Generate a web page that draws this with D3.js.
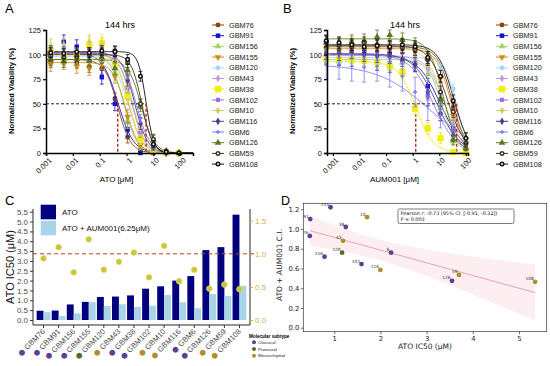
<!DOCTYPE html>
<html>
<head>
<meta charset="utf-8">
<script src="https://cdn.jsdelivr.net/npm/d3@7"></script>
<style>
body { margin: 0; background: #fff; }
svg { display: block; font-family: "Liberation Sans", Arial, sans-serif; }
</style>
</head>
<body>
<div id="fig"></div>
<script>
// GBM lines, ATO / AUM001 dose response + IC50 / combination index

const cellLines = ['GBM76','GBM91','GBM156','GBM155','GBM120','GBM43','GBM38','GBM102','GBM10','GBM116','GBM6','GBM126','GBM59','GBM108']
const lineColors = ['#8b4513','#1414d2','#a4d36a','#c98c1c','#a8d8f0','#b79ae6','#eeee10','#9a6ee0','#d9c86a','#4a3a8a','#7d7cf2','#5b7a1f','#4a3322','#111111']
const markerShapes = ['circle','square','triangle','triangleDown','circle','diamond','bigSquare','circle','diamond','diamond','cross','triangle','ring','ring']

// panel A : ATO doses (uM) and mean viability (%)
const dosesA = [0.0015, 0.0046, 0.014, 0.041, 0.12, 0.37, 1.1, 3.3, 10, 30, 90]
const viabA = [
	[93, 96, 92, 88, 86, 55, 16, 3, 1, 0, 0],
	[98, 113, 108, 99, 77, 50, 24, 0, 0, 0, 0],
	[108, 96, 97, 95, 97, 82, 33, 6, 1, 0, 0],
	[90, 92, 88, 86, 92, 78, 37, 8, 1, 0, 0],
	[100, 97, 99, 96, 98, 88, 55, 20, 14, 0, 0],
	[103, 100, 101, 99, 101, 92, 56, 15, 2, 0, 0],
	[104, 99, 98, 110, 112, 92, 58, 14, 2, 0, 0],
	[101, 100, 99, 100, 103, 96, 66, 21, 4, 0, 0],
	[96, 110, 97, 113, 110, 95, 68, 25, 4, 0, 0],
	[103, 102, 100, 101, 100, 99, 74, 30, 6, 0, 0],
	[100, 103, 102, 99, 101, 100, 79, 35, 8, 1, 0],
	[95, 93, 96, 94, 97, 86, 84, 48, 13, 2, 0],
	[99, 97, 98, 100, 102, 104, 92, 50, 14, 2, 0],
	[102, 101, 103, 102, 104, 103, 95, 78, 9, 1, 0]
]
const sdA = [6, 7, 8, 7, 5, 6, 8, 5, 7, 6, 4, 6, 5, 5]
const topA = [95, 102, 100, 92, 98, 102, 100, 101, 100, 102, 102, 95, 100, 103]
const hillA = [1.8, 1.5, 1.8, 1.8, 1.6, 1.8, 1.8, 1.8, 1.8, 1.8, 1.7, 1.8, 2.2, 3]

// panel B : AUM001 doses (uM) and mean viability (%)
const dosesB = [0.00056, 0.0017, 0.0051, 0.015, 0.046, 0.137, 0.41, 1.23, 3.7, 11.1, 33.3, 100]
const viabB = [
	[107, 108, 109, 106, 108, 110, 108, 106, 97, 78, 45, 15],
	[99, 97, 103, 103, 92, 101, 93, 91, 68, 52, 25, 1],
	[95, 93, 97, 95, 94, 90, 92, 88, 80, 50, 12, 5],
	[106, 104, 107, 108, 107, 105, 106, 104, 95, 76, 38, 10],
	[100, 97, 99, 96, 95, 97, 96, 93, 90, 85, 65, 12],
	[98, 100, 101, 97, 99, 98, 96, 94, 85, 60, 28, 8],
	[97, 96, 95, 94, 92, 88, 82, 45, 25, 15, 1, 0],
	[100, 102, 101, 100, 99, 98, 96, 88, 58, 40, 22, 5],
	[104, 108, 110, 109, 108, 110, 106, 102, 90, 40, 32, 12],
	[102, 101, 103, 100, 99, 98, 95, 90, 62, 40, 18, 5],
	[90, 90, 88, 87, 88, 82, 78, 62, 48, 38, 25, 10],
	[112, 110, 113, 114, 118, 120, 115, 110, 96, 55, 14, 5],
	[113, 110, 108, 112, 110, 108, 107, 105, 95, 62, 42, 10],
	[114, 112, 110, 108, 109, 108, 110, 108, 97, 78, 53, 15]
]
const sdB = [6, 8, 6, 8, 5, 6, 6, 5, 8, 7, 15, 7, 6, 6]
const topB = [108, 100, 95, 106, 97, 99, 93, 100, 108, 101, 90, 116, 109, 110]
const icB = [30, 11, 13, 27, 45, 16, 1.3, 6, 14, 8, 4, 14, 20, 35]
const hillB = [1.6, 1, 1.6, 1.6, 2, 1.3, 1.3, 1, 1.3, 1, 0.45, 1.6, 1.3, 1.5]

// panel C / D
const atoIC50 = [0.47, 0.48, 0.79, 0.92, 1.17, 1.19, 1.25, 1.59, 1.71, 2.0, 2.23, 3.55, 3.7, 5.35]
const comboIC50 = [0.4, 0.2, 0.34, 0.9, 0.71, 0.8, 0.66, 0.73, 1.27, 0.9, 0.6, 1.32, 1.22, 1.74]
const ciValues = [0.93, 1.1, 0.72, 1.22, 0.76, 0.88, 1.02, 0.645, 1.12, 0.585, 0.76, 0.475, 0.535, 0.465]
const subtype = ['Classical','Classical','Classical','Classical','Proneural','Mesenchymal','Classical','Classical','Mesenchymal','Mesenchymal','Classical','Classical','Mesenchymal','Mesenchymal']
const subtypeNames = ['Classical','Proneural','Mesenchymal']
const subtypeColors = ['#5e3f91','#566a2e','#b0902c']

const ticksDR = [0, 25, 50, 75, 100, 125]
const doseTicks = [0.001, 0.01, 0.1, 1, 10, 100]
const ticksC = [0, 0.5, 1, 1.5, 2, 2.5, 3, 3.5, 4, 4.5, 5, 5.5]
const ticksC2 = [0, 0.5, 1, 1.5]
const ticksDx = [1, 2, 3, 4, 5]
const ticksDy = [0, 0.2, 0.4, 0.6, 0.8, 1.0, 1.2]
const statLines = ['Pearson r: -0.73 (95% CI: [-0.91, -0.32])', 'P = 0.003']

const svg = d3.select('#fig').append('svg').attr('width', 550).attr('height', 366)

const subColor = s => subtypeColors[subtypeNames.indexOf(s)]

const drawMarker = (g, shape, color, cx, cy) => {
	if (shape == 'ring') {
		g.append('circle').attr('cx', cx).attr('cy', cy).attr('r', 2.5).attr('fill', color)
		g.append('circle').attr('cx', cx).attr('cy', cy).attr('r', 1).attr('fill', '#fff')
		return
	}
	let type = d3.symbolCircle, size = 19, rot = 0
	if (shape == 'square') { type = d3.symbolSquare; size = 20 }
	if (shape == 'bigSquare') { type = d3.symbolSquare; size = 40 }
	if (shape == 'triangle') { type = d3.symbolTriangle; size = 20 }
	if (shape == 'triangleDown') { type = d3.symbolTriangle; size = 20; rot = 180 }
	if (shape == 'diamond') { type = d3.symbolDiamond; size = 17 }
	if (shape == 'cross') { type = d3.symbolCross; size = 9 }
	g.append('path')
		.attr('d', d3.symbol().type(type).size(size)())
		.attr('transform', `translate(${cx},${cy}) rotate(${rot})`)
		.attr('fill', color)
}

const drawDoseResponse = (o) => {
	const g = svg.append('g')
	const x = d3.scaleLog().domain(o.xDomain).range(o.xRange)
	const y = d3.scaleLinear().domain([0, 125]).range([153, 30])

	// fitted curves
	const lo = Math.log10(o.xDomain[0]), hi = Math.log10(o.xDomain[1])
	const grid = d3.range(0, 121).map(i => Math.pow(10, lo + (hi - lo) * i / 120))
	cellLines.forEach((name, i) => {
		const fit = d => o.top[i] / (1 + Math.pow(d / o.ic[i], o.hill[i]))
		g.append('path').datum(grid)
			.attr('d', d3.line().x(d => x(d)).y(d => y(fit(d))))
			.attr('fill', 'none')
			.attr('stroke', lineColors[i])
			.attr('stroke-width', 0.9)
	})

	// dashed IC50 guides
	const icMin = d3.min(o.ic), icMax = d3.max(o.ic)
	g.append('line').attr('x1', o.xRange[0]).attr('x2', x(icMax)).attr('y1', y(50)).attr('y2', y(50))
		.attr('stroke', '#222').attr('stroke-width', 1).attr('stroke-dasharray', '3,2')
	;[icMin, icMax].forEach(v => {
		g.append('line').attr('x1', x(v)).attr('x2', x(v)).attr('y1', y(50)).attr('y2', y(0))
			.attr('stroke', '#a8321e').attr('stroke-width', 1.4).attr('stroke-dasharray', '3,2')
	})

	// points with error bars
	cellLines.forEach((name, i) => {
		o.viab[i].forEach((v, j) => {
			const cx = x(o.doses[j])
			const e = Math.min(o.sd[i], v * 0.3 + 1)
			const y1 = y(Math.max(0, v - e)), y2 = y(Math.min(125, v + e))
			g.append('line').attr('x1', cx).attr('x2', cx).attr('y1', y1).attr('y2', y2)
				.attr('stroke', lineColors[i]).attr('stroke-width', 0.8)
			;[y1, y2].forEach(yy => g.append('line').attr('x1', cx - 2).attr('x2', cx + 2).attr('y1', yy).attr('y2', yy)
				.attr('stroke', lineColors[i]).attr('stroke-width', 0.8))
			drawMarker(g, markerShapes[i], lineColors[i], cx, y(v))
		})
	})

	// axes
	const ax = g.append('g').attr('transform', `translate(${o.xRange[0]},0)`)
		.call(d3.axisLeft(y).tickValues(ticksDR).tickSize(3).tickPadding(2))
	const bx = g.append('g').attr('transform', 'translate(0,153)')
		.call(d3.axisBottom(x).tickValues(doseTicks).tickFormat(d3.format('~g')).tickSize(3).tickPadding(2))
	;[ax, bx].forEach(a => {
		a.select('.domain').attr('stroke', '#000').attr('stroke-width', 1.5)
		a.selectAll('.tick line').attr('stroke', '#000').attr('stroke-width', 1.2)
		a.selectAll('text').attr('font-size', 7.5).attr('fill', '#111').attr('font-family', 'Liberation Sans, Arial, sans-serif')
	})
	bx.selectAll('text').attr('transform', 'rotate(-45)').style('text-anchor', 'end').attr('dx', '-0.2em').attr('dy', '0.6em')

	g.append('text').attr('x', (o.xRange[0] + o.xRange[1]) / 2 - 3).attr('y', 182)
		.attr('text-anchor', 'middle').attr('font-size', 8).text(o.xLabel)
	g.append('text').attr('transform', `translate(${o.xRange[0] - 32},91) rotate(-90)`)
		.attr('text-anchor', 'middle').attr('font-size', 7.6).attr('font-weight', 'bold').text('Normalized Viability (%)')
	g.append('text').attr('x', o.titleX).attr('y', 28).attr('text-anchor', 'middle').attr('font-size', 9).text('144 hrs')
	g.append('text').attr('x', o.panelX).attr('y', 13).attr('font-size', 13).text(o.panel)

	// legend
	cellLines.forEach((name, i) => {
		const ly = 25 + i * 10.7
		g.append('line').attr('x1', o.legendX - 6).attr('x2', o.legendX + 6).attr('y1', ly).attr('y2', ly)
			.attr('stroke', lineColors[i]).attr('stroke-width', 1)
		drawMarker(g, markerShapes[i], lineColors[i], o.legendX, ly)
		g.append('text').attr('x', o.legendX + 11).attr('y', ly + 2.6).attr('font-size', 7.3).attr('fill', '#222').text(name)
	})
}

drawDoseResponse({ panel: 'A', panelX: 5, titleX: 120, xLabel: 'ATO  [\u03bcM]', xDomain: [0.001, 300], xRange: [46, 193],
	doses: dosesA, viab: viabA, sd: sdA, top: topA, ic: atoIC50, hill: hillA, legendX: 218 })
drawDoseResponse({ panel: 'B', panelX: 283, titleX: 405, xLabel: 'AUM001  [\u03bcM]', xDomain: [0.0006, 120], xRange: [327, 468],
	doses: dosesB, viab: viabB, sd: sdB, top: topB, ic: icB, hill: hillB, legendX: 502 })

// ---------- panel C ----------
const gC = svg.append('g')
const xC = d3.scaleBand().domain(cellLines).range([33, 250]).paddingOuter(0.2).paddingInner(0)
const yC = d3.scaleLinear().domain([0, 5.5]).range([320, 211.7])
const yC2 = d3.scaleLinear().domain([0, 1.5]).range([320, 220.7])
const mid = d => xC(d) + xC.bandwidth() / 2

gC.append('text').attr('x', 5).attr('y', 205).attr('font-size', 13).text('C')

gC.selectAll('rect.ato').data(cellLines).join('rect')
	.attr('x', d => mid(d) - 6.9).attr('width', 6.9)
	.attr('y', (d, i) => yC(atoIC50[i])).attr('height', (d, i) => yC(0) - yC(atoIC50[i]))
	.attr('fill', '#02027f')
gC.selectAll('rect.combo').data(cellLines).join('rect')
	.attr('x', d => mid(d)).attr('width', 6.9)
	.attr('y', (d, i) => yC(comboIC50[i])).attr('height', (d, i) => yC(0) - yC(comboIC50[i]))
	.attr('fill', '#a9d3e6')

gC.append('line').attr('x1', 33).attr('x2', 254).attr('y1', yC2(1)).attr('y2', yC2(1))
	.attr('stroke', '#b04a2a').attr('stroke-width', 1).attr('stroke-dasharray', '4,3')

gC.selectAll('circle.ci').data(cellLines).join('circle')
	.attr('cx', d => mid(d)).attr('cy', (d, i) => yC2(ciValues[i])).attr('r', 2.9)
	.attr('fill', '#c9c63a').attr('stroke', '#dedc7a').attr('stroke-width', 0.6)

// frame
gC.append('path').attr('d', 'M33,209V325H250V209').attr('fill', 'none').attr('stroke', '#111').attr('stroke-width', 0.9)

const cl = gC.append('g').attr('transform', 'translate(33,0)')
	.call(d3.axisLeft(yC).tickValues(ticksC).tickFormat(d3.format('.1f')).tickSize(3).tickPadding(2))
cl.select('.domain').remove()
cl.selectAll('text').attr('font-size', 8).attr('fill', '#4d4d4d')
cl.selectAll('.tick line').attr('stroke', '#333')

const cr = gC.append('g').attr('transform', 'translate(250,0)')
	.call(d3.axisRight(yC2).tickValues(ticksC2).tickFormat(d3.format('.1f')).tickSize(3).tickPadding(2))
cr.select('.domain').remove()
cr.selectAll('text').attr('font-size', 8).attr('fill', '#d2ae50')
cr.selectAll('.tick line').attr('stroke', '#d2ae50')

gC.selectAll('line.xt').data(cellLines).join('line')
	.attr('x1', d => mid(d)).attr('x2', d => mid(d)).attr('y1', 325).attr('y2', 328).attr('stroke', '#333')

gC.selectAll('text.xl').data(cellLines).join('text')
	.attr('transform', d => `translate(${mid(d) + 2},${332}) rotate(-45)`)
	.attr('text-anchor', 'end').attr('font-size', 7.6).attr('fill', '#4d4d4d')
	.each(function (d, i) {
		const t = d3.select(this)
		t.append('tspan').attr('fill', subColor(subtype[i])).attr('font-family', 'DejaVu Sans').text('\u25cf ')
		t.append('tspan').text(d)
	})

gC.append('text').attr('transform', 'translate(14,267) rotate(-90)').attr('text-anchor', 'middle')
	.attr('font-size', 11).attr('fill', '#111').text('ATO IC50 (\u03bcM)')

// legend C
const legC = [['ATO', '#02027f'], ['ATO + AUM001(6.25\u03bcM)', '#a9d3e6']]
legC.forEach((l, i) => {
	gC.append('rect').attr('x', 40.7).attr('y', 204.7 + i * 16).attr('width', 15.3).attr('height', 14.6).attr('fill', l[1])
	gC.append('text').attr('x', 62).attr('y', 215 + i * 16).attr('font-size', 8).attr('fill', '#111').text(l[0])
})

// subtype legend
gC.append('text').attr('x', 249).attr('y', 337.5).attr('font-size', 4.6).attr('font-weight', 'bold').text('Molecular subtype')
subtypeNames.forEach((s, i) => {
	gC.append('circle').attr('cx', 254).attr('cy', 342.3 + i * 6.7).attr('r', 2).attr('fill', subtypeColors[i])
	gC.append('text').attr('x', 258).attr('y', 344 + i * 6.7).attr('font-size', 4.4).attr('fill', '#222').text(s)
})

// ---------- panel D ----------
const gD = svg.append('g').attr('font-family', 'DejaVu Sans, sans-serif')
const xD = d3.scaleLinear().domain([0.33, 5.6]).range([303.3, 546.7])
const yD = d3.scaleLinear().domain([-0.04, 1.26]).range([331.7, 203.3])

gD.append('text').attr('x', 281).attr('y', 205).attr('font-size', 12.5).attr('font-family', 'Liberation Sans, Arial, sans-serif').text('D')

// least squares fit + 95% band
const n = atoIC50.length
const mx = d3.mean(atoIC50), my = d3.mean(ciValues)
const sxx = d3.sum(atoIC50, v => (v - mx) ** 2)
const sxy = d3.sum(atoIC50, (v, i) => (v - mx) * (ciValues[i] - my))
const slope = sxy / sxx, icpt = my - slope * mx
const sres = Math.sqrt(d3.sum(atoIC50, (v, i) => (ciValues[i] - icpt - slope * v) ** 2) / (n - 2))
const tcrit = 2.179
const xs = d3.range(0, 61).map(i => d3.min(atoIC50) + (d3.max(atoIC50) - d3.min(atoIC50)) * i / 60)
const half = v => tcrit * sres * Math.sqrt(1 / n + (v - mx) ** 2 / sxx)
gD.append('path').datum(xs)
	.attr('d', d3.area().x(v => xD(v)).y0(v => yD(icpt + slope * v - half(v))).y1(v => yD(icpt + slope * v + half(v))))
	.attr('fill', '#fdeef2')
gD.append('line')
	.attr('x1', xD(d3.min(atoIC50))).attr('y1', yD(icpt + slope * d3.min(atoIC50)))
	.attr('x2', xD(d3.max(atoIC50))).attr('y2', yD(icpt + slope * d3.max(atoIC50)))
	.attr('stroke', '#e2a8b2').attr('stroke-width', 1)

gD.selectAll('circle.pt').data(cellLines).join('circle')
	.attr('cx', (d, i) => xD(atoIC50[i])).attr('cy', (d, i) => yD(ciValues[i])).attr('r', 2.4)
	.attr('fill', (d, i) => subColor(subtype[i]))
gD.selectAll('text.pl').data(cellLines).join('text')
	.attr('x', (d, i) => xD(atoIC50[i]) - 1.5).attr('y', (d, i) => yD(ciValues[i]) - 1.5)
	.attr('text-anchor', 'end').attr('font-size', 4.3).attr('fill', '#333')
	.text(d => d.replace('GBM', ''))

gD.append('rect').attr('x', 303.3).attr('y', 203.3).attr('width', 243.4).attr('height', 128.4)
	.attr('fill', 'none').attr('stroke', '#333').attr('stroke-width', 0.7)

const dx = gD.append('g').attr('transform', 'translate(0,331.7)')
	.call(d3.axisBottom(xD).tickValues(ticksDx).tickFormat(d3.format('d')).tickSize(2.5).tickPadding(1.5))
const dy = gD.append('g').attr('transform', 'translate(303.3,0)')
	.call(d3.axisLeft(yD).tickValues(ticksDy).tickFormat(d3.format('.1f')).tickSize(2.5).tickPadding(1.5))
;[dx, dy].forEach(a => {
	a.select('.domain').remove()
	a.selectAll('text').attr('font-size', 6.8).attr('fill', '#222').attr('font-family', 'DejaVu Sans, sans-serif')
	a.selectAll('.tick line').attr('stroke', '#333').attr('stroke-width', 0.7)
})

gD.append('text').attr('x', 425).attr('y', 349).attr('text-anchor', 'middle').attr('font-size', 7.5).attr('fill', '#222').text('ATO IC50 (\u03bcM)')
gD.append('text').attr('transform', 'translate(282,265) rotate(-90)').attr('text-anchor', 'middle')
	.attr('font-size', 7.5).attr('fill', '#222').text('ATO + AUM001 C.I.')

gD.append('rect').attr('x', 398).attr('y', 209).attr('width', 116).attr('height', 14.5).attr('rx', 1.5)
	.attr('fill', '#fff').attr('stroke', '#444').attr('stroke-width', 0.7)
statLines.forEach((s, i) => {
	gD.append('text').attr('x', 400.5).attr('y', 214.8 + i * 5.8).attr('font-size', 4.9).attr('fill', '#111').text(s)
})
</script>
</body>
</html>
